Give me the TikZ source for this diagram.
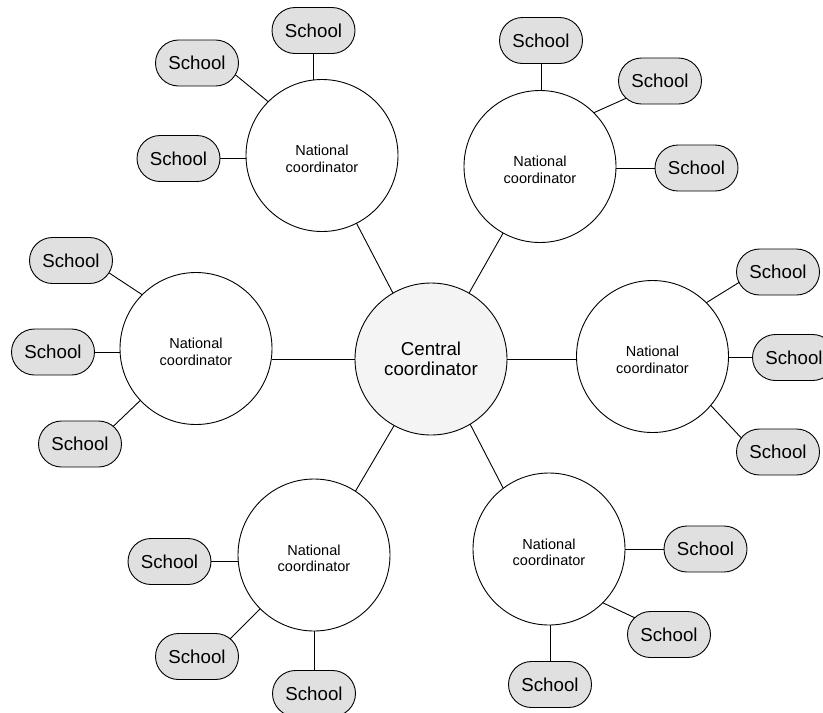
\documentclass[tikz,border=0pt]{standalone}
\usepackage{fontspec}
\setmainfont{Liberation Sans}
\usetikzlibrary{shapes.misc}
\definecolor{schoolgray}{HTML}{E0E0E0}
\definecolor{centralgray}{HTML}{F4F4F4}
\newcommand{\ncstrut}{\rule{0pt}{17pt}}
\begin{document}
\begin{tikzpicture}[x=1pt,y=-1pt,line width=0.9pt,
  nat/.style={circle,draw,fill=white,minimum size=152pt,inner sep=0pt,outer sep=0pt,align=center,font=\fontsize{14.5}{16.5}\selectfont},
  central/.style={nat,fill=centralgray,font=\fontsize{18.7}{20.5}\selectfont},
  school/.style={rounded rectangle,draw,fill=schoolgray,minimum width=83pt,minimum height=46pt,inner sep=0pt,outer sep=0pt,font=\fontsize{18.7}{21}\selectfont}]
\useasboundingbox (0,0) rectangle (823,713);
\clip (0,0) rectangle (823,713);
% coordinators
\node[central] (C) at (431,359) {Central\\coordinator};
\node[nat] (TL) at (322,155.5) {\ncstrut National\\coordinator};
\node[nat] (TR) at (540,166.5) {\ncstrut National\\coordinator};
\node[nat] (L) at (196,348.5) {\ncstrut National\\coordinator};
\node[nat] (R) at (652.5,356.5) {\ncstrut National\\coordinator};
\node[nat] (BL) at (314,555) {\ncstrut National\\coordinator};
\node[nat] (BR) at (549,549) {\ncstrut National\\coordinator};
% schools
\node[school] (tl1) at (313.5,30.5) {School};
\node[school] (tl2) at (197,63) {School};
\node[school] (tl3) at (178.5,158.5) {School};
\node[school] (tr1) at (541,40.5) {School};
\node[school] (tr2) at (660,81) {School};
\node[school] (tr3) at (696.5,168) {School};
\node[school] (l1) at (71,260.5) {School};
\node[school] (l2) at (53,352) {School};
\node[school] (l3) at (80,444) {School};
\node[school] (r1) at (778,272) {School};
\node[school] (r2) at (794,357.5) {School};
\node[school] (r3) at (778,452) {School};
\node[school] (bl1) at (169.5,561.5) {School};
\node[school] (bl2) at (197,656.5) {School};
\node[school] (bl3) at (314,693.5) {School};
\node[school] (br1) at (705.5,549) {School};
\node[school] (br2) at (669,634.5) {School};
\node[school] (br3) at (550,684.5) {School};
% central links
\draw (C.120) -- (TL.-63);
\draw (C.60) -- (TR.-119);
\draw (C.west) -- (C.west -| L.east);
\draw (C.east) -- (C.east -| R.west);
\draw (C.241) -- (BL.57);
\draw (C.-59) -- (BR.127);
% school links
\draw (tl1.south) -- (tl1.south |- TL.north);
\draw (tl2.-17) -- (TL.135);
\draw (tl3.east) -- (tl3.east -| TL.west);
\draw (tr1.south) -- (tr1.south |- TR.north);
\draw (tr2.207) -- (TR.45);
\draw (tr3.west) -- (tr3.west -| TR.east);
\draw (l1.-18) -- (L.135);
\draw (l2.east) -- (l2.east -| L.west);
\draw (l3.28) -- (L.223);
\draw (r1.195) -- (R.45);
\draw (r2.west) -- (r2.west -| R.east);
\draw (r3.159) -- (R.-40);
\draw (bl1.east) -- (bl1.east -| BL.west);
\draw (bl2.28) -- (BL.225);
\draw (bl3.north) -- (bl3.north |- BL.south);
\draw (br1.west) -- (br1.west -| BR.east);
\draw (br2.154) -- (BR.-45);
\draw (br3.north) -- (br3.north |- BR.south);
\end{tikzpicture}
\end{document}
